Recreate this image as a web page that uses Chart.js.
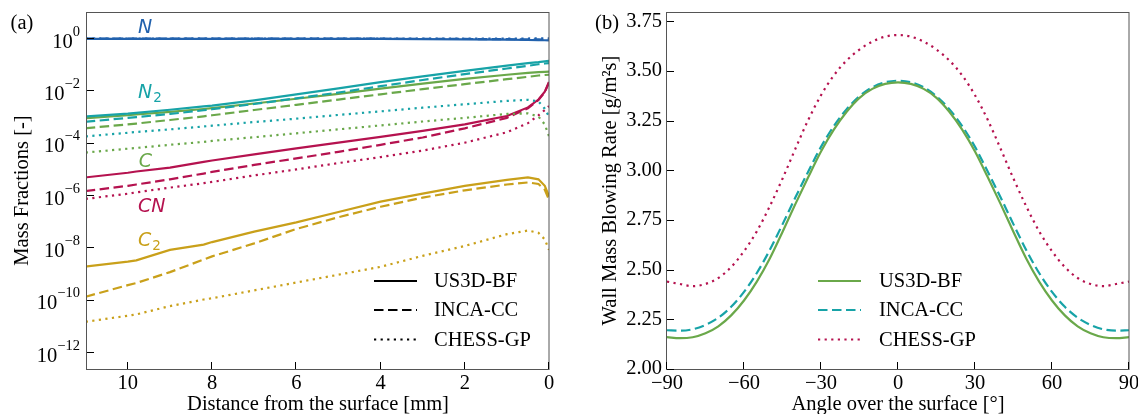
<!DOCTYPE html>
<html>
<head>
<meta charset="utf-8">
<script src="https://cdn.jsdelivr.net/npm/chart.js@4.4.1/dist/chart.umd.min.js"></script>
<style>
html, body { margin: 0; padding: 0; background: #fff; }
#wrap { position: relative; width: 1138px; height: 414px; }
#wrap canvas { position: absolute; top: 0; }
#cA { left: 0; }
#cB { left: 569px; }
</style>
</head>
<body>
<div id="wrap">
  <canvas id="cA" width="569" height="414"></canvas>
  <canvas id="cB" width="569" height="414"></canvas>
</div>
<script>
var SERIF = "'Liberation Serif', 'Times New Roman', 'DejaVu Serif', serif";
var FS = 20.5;

// colours
var colN = "#2161ad", colN2 = "#17a3a7", colC = "#6aa84a", colCN = "#b5124f", colC2 = "#c9a01a";

// (a) mass fractions along the stagnation line
var distanceMm = [11, 10, 9.8, 9, 8.2, 8, 7, 6, 5, 4, 3, 2, 1, 0.5, 0.25, 0.1, 0];

var nUS3D  = [0.94, 0.94, 0.94, 0.94, 0.94, 0.94, 0.94, 0.94, 0.94, 0.93, 0.92, 0.9, 0.87, 0.85, 0.84, 0.83, 0.82];
var nINCA  = [0.95, 0.95, 0.95, 0.95, 0.95, 0.95, 0.95, 0.95, 0.95, 0.95, 0.94, 0.93, 0.91, 0.9, 0.89, 0.885, 0.88];
var nCHESS = [0.96, 0.96, 0.96, 0.96, 0.96, 0.96, 0.96, 0.96, 0.96, 0.96, 0.96, 0.96, 0.96, 0.97, 0.98, 0.99, 0.99];

var n2US3D  = [1.0e-3, 1.29e-3, 1.38e-3, 1.82e-3, 2.45e-3, 2.63e-3, 4.17e-3, 7.08e-3, 1.20e-2, 2.09e-2, 3.47e-2, 5.62e-2, 8.91e-2, 1.10e-1, 1.20e-1, 1.29e-1, 1.35e-1];
var n2INCA  = [6.3e-4, 8.9e-4, 9.5e-4, 1.26e-3, 1.74e-3, 1.91e-3, 3.02e-3, 5.0e-3, 8.3e-3, 1.45e-2, 2.5e-2, 4.2e-2, 6.9e-2, 8.7e-2, 1.0e-1, 1.07e-1, 1.1e-1];
var n2CHESS = [1.74e-4, 2.4e-4, 2.57e-4, 3.24e-4, 4.17e-4, 4.47e-4, 6.17e-4, 8.3e-4, 1.15e-3, 1.58e-3, 2.19e-3, 2.95e-3, 3.98e-3, 4.37e-3, 3.8e-3, 2.0e-3, 1.0e-3];

var cUS3D  = [8.7e-4, 1.12e-3, 1.2e-3, 1.51e-3, 1.95e-3, 2.09e-3, 3.16e-3, 4.79e-3, 7.41e-3, 1.17e-2, 1.82e-2, 2.75e-2, 3.98e-2, 4.68e-2, 5.01e-2, 5.13e-2, 5.25e-2];
var cINCA  = [3.6e-4, 5.0e-4, 5.4e-4, 7.4e-4, 1.02e-3, 1.12e-3, 1.78e-3, 2.82e-3, 4.47e-3, 7.08e-3, 1.12e-2, 1.74e-2, 2.69e-2, 3.31e-2, 3.72e-2, 3.89e-2, 3.98e-2];
var cCHESS = [4.2e-5, 5.9e-5, 6.3e-5, 8.3e-5, 1.07e-4, 1.17e-4, 1.62e-4, 2.29e-4, 3.24e-4, 4.57e-4, 6.46e-4, 8.9e-4, 1.26e-3, 1.32e-3, 1.0e-3, 5.0e-4, 1.78e-4];

var cnUS3D  = [4.7e-6, 7.1e-6, 7.9e-6, 1.12e-5, 1.86e-5, 2.09e-5, 3.55e-5, 6.03e-5, 1.0e-4, 1.66e-4, 2.82e-4, 5.01e-4, 1.05e-3, 2.24e-3, 4.47e-3, 8.9e-3, 2.09e-2];
var cnINCA  = [1.41e-6, 2.24e-6, 2.51e-6, 3.98e-6, 6.6e-6, 7.6e-6, 1.41e-5, 2.51e-5, 4.47e-5, 8.3e-5, 1.58e-4, 3.55e-4, 8.9e-4, 2.09e-3, 4.27e-3, 8.5e-3, 2.0e-2];
var cnCHESS = [7.1e-7, 1.12e-6, 1.26e-6, 1.91e-6, 2.82e-6, 3.16e-6, 5.6e-6, 9.5e-6, 1.66e-5, 2.82e-5, 5.0e-5, 1.0e-4, 2.51e-4, 5.6e-4, 1.12e-3, 1.78e-3, 2.51e-3];

var c2US3D  = [1.82e-9, 2.82e-9, 3.16e-9, 7.9e-9, 1.26e-8, 1.58e-8, 3.98e-8, 8.9e-8, 2.24e-7, 5.6e-7, 1.12e-6, 2.24e-6, 3.8e-6, 4.68e-6, 3.98e-6, 2.24e-6, 8.9e-7];
var c2INCA  = [1.29e-10, 3.55e-10, 4.27e-10, 1.12e-9, 3.39e-9, 4.47e-9, 1.41e-8, 5.0e-8, 1.41e-7, 3.55e-7, 7.9e-7, 1.51e-6, 2.51e-6, 3.02e-6, 2.63e-6, 1.58e-6, 6.6e-7];
var c2CHESS = [1.41e-11, 2.4e-11, 2.69e-11, 5.6e-11, 1.0e-10, 1.12e-10, 2.24e-10, 4.47e-10, 8.9e-10, 1.78e-9, 4.68e-9, 1.12e-8, 3.16e-8, 4.37e-8, 3.55e-8, 2.0e-8, 7.9e-9];

var distTicks = [0, 2, 4, 6, 8, 10];
var fracTicks = [1e-12, 1e-10, 1e-8, 1e-6, 1e-4, 1e-2, 1];

// (b) wall blowing rate around the surface
var angleDeg = [-90, -85, -80, -75, -70, -65, -60, -55, -50, -45, -40, -35, -30, -25, -20, -15, -10, -5, 0,
                5, 10, 15, 20, 25, 30, 35, 40, 45, 50, 55, 60, 65, 70, 75, 80, 85, 90];
var blowUS3D  = [2.16, 2.155, 2.16, 2.18, 2.215, 2.27, 2.345, 2.44, 2.555, 2.69, 2.83, 2.965, 3.095, 3.205, 3.295, 3.365, 3.41, 3.435, 3.443,
                 3.435, 3.41, 3.365, 3.295, 3.205, 3.095, 2.965, 2.83, 2.69, 2.555, 2.44, 2.345, 2.27, 2.215, 2.18, 2.16, 2.155, 2.16];
var blowINCA  = [2.195, 2.193, 2.2, 2.222, 2.258, 2.313, 2.388, 2.483, 2.598, 2.728, 2.863, 2.993, 3.118, 3.223, 3.308, 3.373, 3.418, 3.443, 3.451,
                 3.443, 3.418, 3.373, 3.308, 3.223, 3.118, 2.993, 2.863, 2.728, 2.598, 2.483, 2.388, 2.313, 2.258, 2.222, 2.2, 2.193, 2.195];
var blowCHESS = [2.44, 2.428, 2.417, 2.428, 2.458, 2.513, 2.593, 2.693, 2.818, 2.958, 3.108, 3.253, 3.378, 3.478, 3.553, 3.608, 3.648, 3.673, 3.681,
                 3.673, 3.648, 3.608, 3.553, 3.478, 3.378, 3.253, 3.108, 2.958, 2.818, 2.693, 2.593, 2.513, 2.458, 2.428, 2.417, 2.428, 2.44];

var angleTicks = [-90, -60, -30, 0, 30, 60, 90];
var rateTicks = [2.0, 2.25, 2.5, 2.75, 3.0, 3.25, 3.5, 3.75];

var codes = ["US3D-BF", "INCA-CC", "CHESS-GP"];
var dashes = [[], [9.5, 4.5], [2.2, 4.4]];

var species = [
  { name: "N",  sub: "",  color: colN,  runs: [nUS3D, nINCA, nCHESS],   lx: 9.76, ly: 1.58 },
  { name: "N",  sub: "2", color: colN2, runs: [n2US3D, n2INCA, n2CHESS], lx: 9.76, ly: 5.0e-3 },
  { name: "C",  sub: "",  color: colC,  runs: [cUS3D, cINCA, cCHESS],   lx: 9.74, ly: 1.17e-5 },
  { name: "CN", sub: "",  color: colCN, runs: [cnUS3D, cnINCA, cnCHESS], lx: 9.76, ly: 2.2e-7 },
  { name: "C",  sub: "2", color: colC2, runs: [c2US3D, c2INCA, c2CHESS], lx: 9.76, ly: 1.1e-8 }
];

var dsA = [];
species.forEach(function (sp) {
  sp.runs.forEach(function (vals, k) {
    dsA.push({
      label: sp.name + sp.sub + " " + codes[k],
      data: distanceMm.map(function (d, i) { return { x: d, y: vals[i] }; }),
      borderColor: sp.color,
      borderDash: dashes[k],
      borderWidth: 2.2,
      borderCapStyle: "butt",
      fill: false
    });
  });
});

var dsB = [
  { label: codes[0], data: angleDeg.map(function (a, i) { return { x: a, y: blowUS3D[i] }; }),  borderColor: colC,  borderDash: dashes[0] },
  { label: codes[1], data: angleDeg.map(function (a, i) { return { x: a, y: blowINCA[i] }; }),  borderColor: colN2, borderDash: dashes[1] },
  { label: codes[2], data: angleDeg.map(function (a, i) { return { x: a, y: blowCHESS[i] }; }), borderColor: colCN, borderDash: dashes[2] }
];
dsB.forEach(function (d) {
  d.borderWidth = 2.2; d.borderCapStyle = "butt"; d.fill = false;
  d.cubicInterpolationMode = "monotone";
});

function fixSize(w, h) {
  return function (s) {
    if (w != null) s.width = w;
    if (h != null) s.height = h;
    s.paddingLeft = 0; s.paddingRight = 0; s.paddingTop = 0; s.paddingBottom = 0;
  };
}
function setTicks(list) {
  return function (s) { s.ticks = list.map(function (v) { return { value: v }; }); };
}

function line(ctx, x0, y0, x1, y1) {
  ctx.beginPath(); ctx.moveTo(x0, y0); ctx.lineTo(x1, y1); ctx.stroke();
}

function drawFrame(chart) {
  var ctx = chart.ctx, a = chart.chartArea;
  var x = chart.scales.x, y = chart.scales.y;
  ctx.save();
  ctx.strokeStyle = "#555";
  ctx.lineWidth = 1;
  ctx.strokeRect(a.left - 0.5, a.top + 0.5, a.right - a.left + 0.5, a.bottom - a.top);
  ctx.strokeStyle = "#000";
  x.ticks.forEach(function (t) {
    var px = Math.round(x.getPixelForValue(t.value)) - 0.5;
    line(ctx, px, a.bottom, px, a.bottom - 7);
  });
  y.ticks.forEach(function (t) {
    var py = Math.round(y.getPixelForValue(t.value)) + 0.5;
    line(ctx, a.left, py, a.left + 7, py);
  });
  ctx.restore();
}

function drawLegend(ctx, items, x0, x1, tx, rows) {
  ctx.save();
  items.forEach(function (it, i) {
    ctx.strokeStyle = it.color;
    ctx.lineWidth = 2.2;
    ctx.lineCap = "butt";
    ctx.setLineDash(it.dash);
    line(ctx, x0, rows[i], x1, rows[i]);
    ctx.setLineDash([]);
    ctx.fillStyle = "#000";
    ctx.font = FS + "px " + SERIF;
    ctx.textAlign = "left";
    ctx.textBaseline = "middle";
    ctx.fillText(it.text, tx, rows[i] + 1);
  });
  ctx.restore();
}

function drawTitles(ctx, a, xTitle, yTitle, yTitleX, tag, tagX) {
  ctx.save();
  ctx.fillStyle = "#000";
  ctx.font = FS + "px " + SERIF;
  ctx.textAlign = "center";
  ctx.textBaseline = "middle";
  ctx.fillText(xTitle, (a.left + a.right) / 2, a.bottom + 36);
  ctx.fillText(tag, tagX, 24);
  ctx.translate(yTitleX, (a.top + a.bottom) / 2);
  ctx.rotate(-Math.PI / 2);
  ctx.fillText(yTitle, 0, 0);
  ctx.restore();
}

var panelA = {
  id: "panelA",
  afterDraw: function (chart) {
    var ctx = chart.ctx, a = chart.chartArea, x = chart.scales.x, y = chart.scales.y;
    drawFrame(chart);
    // log tick labels 10^n
    ctx.save();
    ctx.fillStyle = "#000";
    ctx.textBaseline = "alphabetic";
    ctx.textAlign = "left";
    y.ticks.forEach(function (t) {
      var e = Math.round(Math.log10(t.value));
      var ex = e < 0 ? "\u2212" + (-e) : String(e);
      var py = y.getPixelForValue(t.value);
      ctx.font = "14.5px " + SERIF;
      var we = ctx.measureText(ex).width;
      ctx.font = FS + "px " + SERIF;
      var wb = ctx.measureText("10").width;
      var right = a.left - 7;
      ctx.fillText("10", right - we - wb, py + 9.7);
      ctx.font = "14.5px " + SERIF;
      ctx.fillText(ex, right - we, py - 2.3);
    });
    // species names
    species.forEach(function (sp) {
      var px = x.getPixelForValue(sp.lx), py = y.getPixelForValue(sp.ly);
      ctx.fillStyle = sp.color;
      ctx.font = "italic 19px 'DejaVu Sans', sans-serif";
      ctx.fillText(sp.name, px, py);
      if (sp.sub) {
        var w = ctx.measureText(sp.name).width;
        ctx.font = "13.5px 'DejaVu Sans', sans-serif";
        ctx.fillText(sp.sub, px + w + 1, py + 4);
      }
    });
    ctx.restore();
    drawLegend(ctx, [
      { text: codes[0], color: "#000", dash: dashes[0] },
      { text: codes[1], color: "#000", dash: dashes[1] },
      { text: codes[2], color: "#000", dash: dashes[2] }
    ], 374, 417, 434, [281, 310, 339.5]);
    drawTitles(ctx, a, "Distance from the surface [mm]", "Mass Fractions [-]", 23, "(a)", 22);
  }
};

var panelB = {
  id: "panelB",
  afterDraw: function (chart) {
    var ctx = chart.ctx, a = chart.chartArea;
    drawFrame(chart);
    drawLegend(ctx, [
      { text: codes[0], color: colC,  dash: dashes[0] },
      { text: codes[1], color: colN2, dash: dashes[1] },
      { text: codes[2], color: colCN, dash: dashes[2] }
    ], 249, 292, 310, [281, 310, 339.5]);
    drawTitles(ctx, a, "Angle over the surface [\u00b0]", "Wall Mass Blowing Rate [g/m\u00b2s]", 42, "(b)", 38);
  }
};

var tickFont = { family: SERIF, size: FS };

new Chart(document.getElementById("cA"), {
  type: "line",
  data: { datasets: dsA },
  options: {
    responsive: false,
    animation: false,
    layout: { padding: { left: 0, right: 20, top: 12, bottom: 0 } },
    elements: { point: { radius: 0 }, line: { tension: 0 } },
    plugins: { legend: { display: false }, tooltip: { enabled: false } },
    scales: {
      x: {
        type: "linear", reverse: true, min: 0, max: 10.97,
        grid: { display: false, drawTicks: false }, border: { display: false },
        ticks: { font: tickFont, color: "#000", padding: 2, maxRotation: 0 },
        afterBuildTicks: setTicks(distTicks),
        afterFit: fixSize(null, 45)
      },
      y: {
        type: "logarithmic", min: 2.2e-13, max: 10,
        grid: { display: false, drawTicks: false }, border: { display: false },
        ticks: { display: false },
        afterBuildTicks: setTicks(fracTicks),
        afterFit: fixSize(87, null)
      }
    }
  },
  plugins: [panelA]
});

new Chart(document.getElementById("cB"), {
  type: "line",
  data: { datasets: dsB },
  options: {
    responsive: false,
    animation: false,
    layout: { padding: { left: 0, right: 9, top: 12, bottom: 0 } },
    elements: { point: { radius: 0 } },
    plugins: { legend: { display: false }, tooltip: { enabled: false } },
    scales: {
      x: {
        type: "linear", min: -90, max: 90,
        grid: { display: false, drawTicks: false }, border: { display: false },
        ticks: {
          font: tickFont, color: "#000", padding: 2, maxRotation: 0,
          callback: function (v) { return String(v).replace("-", "\u2212"); }
        },
        afterBuildTicks: setTicks(angleTicks),
        afterFit: fixSize(null, 45)
      },
      y: {
        type: "linear", min: 2.0, max: 3.797,
        grid: { display: false, drawTicks: false }, border: { display: false },
        ticks: {
          font: tickFont, color: "#000", padding: 5,
          callback: function (v) { return v.toFixed(2); }
        },
        afterBuildTicks: setTicks(rateTicks),
        afterFit: fixSize(98, null)
      }
    }
  },
  plugins: [panelB]
});
</script>
</body>
</html>
